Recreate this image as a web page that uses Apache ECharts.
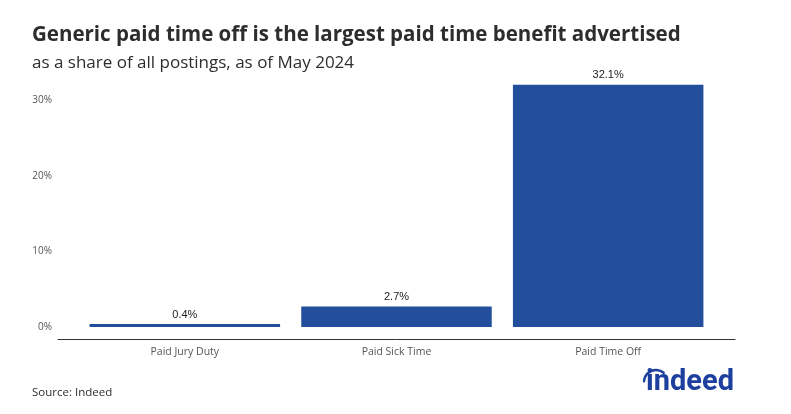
<!DOCTYPE html>
<html>
<head>
<meta charset="utf-8">
<script src="https://cdn.jsdelivr.net/npm/echarts@6/dist/echarts.min.js"></script>
<style>html,body{margin:0;padding:0;background:#fff;}#c{width:791px;height:414px;}</style>
</head>
<body>
<div id="c"></div>
<script>
const categories = ['Paid Jury Duty', 'Paid Sick Time', 'Paid Time Off'];
const shares = [0.4, 2.7, 32.1];
const yTicks = [0, 10, 20, 30];

const chart = echarts.init(document.getElementById('c'), null, {renderer: 'canvas'});
chart.setOption({
  backgroundColor: '#ffffff',
  animation: false,
  title: [
    {text: 'Generic paid time off is the largest paid time benefit advertised', left: 27, top: 20,
     textStyle: {fontFamily: 'Open Sans', fontWeight: 'bold', fontSize: 20.5, color: '#2d2d2d'}},
    {text: 'as a share of all postings, as of May 2024', left: 27, top: 50,
     textStyle: {fontFamily: 'Open Sans', fontWeight: 'normal', fontSize: 17, color: '#2d2d2d'}},
    {text: 'Source: Indeed', left: 27, top: 382,
     textStyle: {fontFamily: 'Open Sans', fontWeight: 'normal', fontSize: 11.5, color: '#2d2d2d'}}
  ],
  grid: [
    {left: 79, right: 77, top: 25, bottom: 87},
    {left: 58, right: 56, top: 330, bottom: 75}
  ],
  xAxis: [
    {type: 'category', data: categories, gridIndex: 0,
     axisLine: {show: false}, axisTick: {show: false},
     axisLabel: {margin: 20, fontFamily: 'Open Sans', fontSize: 10.5, color: '#555'}},
    {type: 'value', gridIndex: 1, min: 0, max: 1, position: 'bottom',
     axisLine: {show: true, lineStyle: {color: '#333', width: 1}},
     axisTick: {show: false}, axisLabel: {show: false}, splitLine: {show: false}}
  ],
  yAxis: [
    {type: 'value', gridIndex: 0, min: 0, max: 40, interval: 10,
     splitLine: {show: false}, axisLine: {show: false}, axisTick: {show: false},
     axisLabel: {margin: 27, fontFamily: 'Open Sans', fontSize: 10, color: '#555',
       formatter: v => yTicks.indexOf(v) >= 0 ? v + '%' : ''}},
    {type: 'value', gridIndex: 1, show: false, min: 0, max: 1}
  ],
  series: [{
    type: 'bar', data: shares, xAxisIndex: 0, yAxisIndex: 0,
    barCategoryGap: '10%',
    itemStyle: {color: '#234e9c'},
    label: {show: true, position: 'top', distance: 4, formatter: p => p.value.toFixed(1) + '%',
      fontFamily: 'Liberation Sans', fontSize: 11, color: '#222'}
  }],
  graphic: [
    {type: 'text', right: 57, top: 368,
     style: {text: 'indeed', fontFamily: 'Roboto', fontWeight: 'bold', fontSize: 29, fill: '#1d3f9e'}},
    {type: 'arc', shape: {cx: 656, cy: 382, r: 12, startAngle: Math.PI * 1.02, endAngle: Math.PI * 1.72},
     style: {stroke: '#1d3f9e', lineWidth: 2.5, fill: null, lineCap: 'round'}}
  ]
});
</script>
</body>
</html>
